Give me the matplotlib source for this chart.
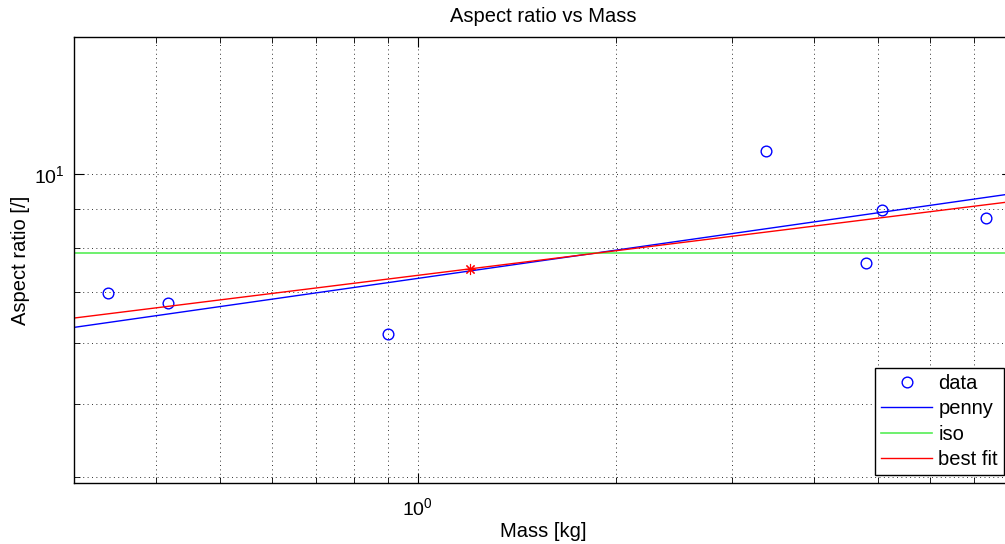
import numpy as np
import matplotlib.pyplot as plt
from matplotlib.ticker import LogLocator, NullFormatter, FuncFormatter

plt.rcParams['font.family'] = ['Liberation Sans', 'DejaVu Sans']
plt.rcParams['mathtext.default'] = 'regular'

# measured data (mass in kg, aspect ratio)
mass = [0.338, 0.418, 0.901, 3.385, 4.80, 5.08, 7.29]
aspect = [6.97, 6.77, 6.17, 10.70, 7.64, 8.97, 8.76]

# fitted lines, end points read at the axis limits
line_x = [0.3, 8.0]
penny_y = [6.29, 9.42]
iso_y = [7.87, 7.87]
best_y = [6.47, 9.20]

# reference point on the best fit
star_x = [1.2]
star_y = [7.50]

fig = plt.figure(figsize=(10.05, 5.44), dpi=100)
ax = fig.add_axes([73.5 / 1005, (544 - 483.3) / 544, (1012.3 - 73.5) / 1005, (483.3 - 37.3) / 544])

ax.plot(mass, aspect, 'o', mfc='none', mec='#0000ff', mew=1.0, ms=7.7, label='data')
ax.plot(line_x, penny_y, color='#0000ff', lw=1.0, label='penny')
ax.plot(line_x, iso_y, color='#55ee55', lw=1.2, label='iso')
ax.plot(line_x, best_y, color='#ff0000', lw=1.0, label='best fit')
ax.plot(star_x, star_y, marker=(8, 2, 0), color='#ff0000', ms=8, mew=0.8, ls='none')

ax.set_xscale('log')
ax.set_yscale('log')
ax.set_xlim(0.3, 8.0)
ax.set_ylim(3.93, 15.1)

fmt = FuncFormatter(lambda v, p: r'$\mathdefault{10^{%d}}$' % round(np.log10(v)))
for axis in (ax.xaxis, ax.yaxis):
    axis.set_major_locator(LogLocator(base=10))
    axis.set_minor_locator(LogLocator(base=10, subs=np.arange(2, 10)))
    axis.set_major_formatter(fmt)
    axis.set_minor_formatter(NullFormatter())

ax.tick_params(which='both', direction='in', top=True, right=True, colors='k', labelsize=14)
ax.tick_params(which='major', length=7, width=0.8)
ax.tick_params(which='minor', length=4, width=0.6)
ax.tick_params(axis='x', which='major', pad=10)
ax.tick_params(axis='y', which='major', pad=6)

ax.grid(True, which='both', color='#333333', linestyle=(0, (1, 3.5)), linewidth=0.7)
for s in ax.spines.values():
    s.set_linewidth(1.0)
    s.set_color('k')

ax.set_title('Aspect ratio vs Mass', fontsize=14.5, pad=11)
ax.set_xlabel('Mass [kg]', fontsize=14.5, labelpad=2)
ax.set_ylabel('Aspect ratio [/]', fontsize=14.5, labelpad=3)

leg = ax.legend(loc='lower right', bbox_to_anchor=(1004 / 1005, (544 - 475.3) / 544),
                bbox_transform=fig.transFigure, borderaxespad=0, fancybox=False,
                framealpha=1, edgecolor='k', fontsize=14.5, handlelength=2.55,
                handletextpad=0.3, labelspacing=0.32, borderpad=0.3, numpoints=1)
leg.get_frame().set_linewidth(1.0)

fig.savefig('out.png', dpi=100)
